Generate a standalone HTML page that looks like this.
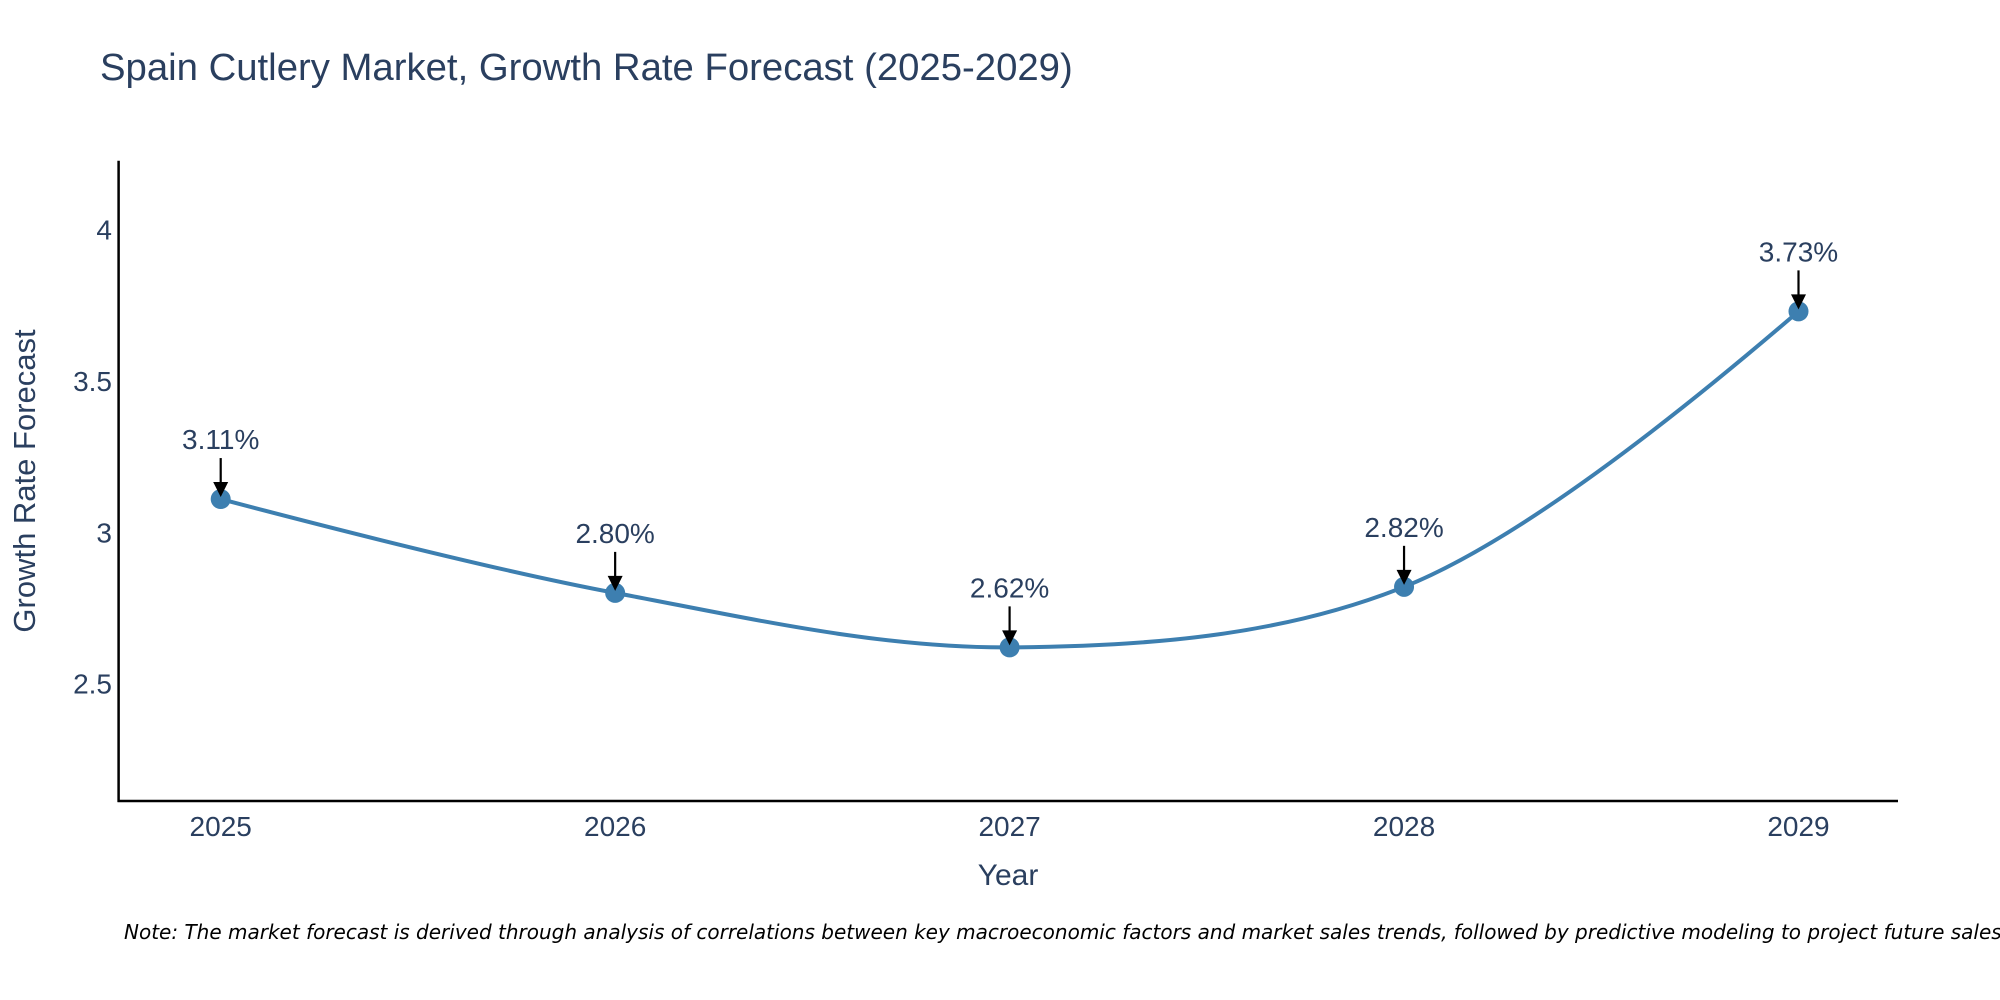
<!DOCTYPE html>
<html><head><meta charset="utf-8"><style>
html,body{margin:0;padding:0;background:#fff;}
svg{display:block;font-family:"Liberation Sans",Arial,sans-serif;}
</style></head><body>
<svg id="chart" width="2000" height="1000" viewBox="0 0 2000 1000">
<text x="100" y="80" font-size="38.3" fill="#2a3f5f">Spain Cutlery Market, Growth Rate Forecast (2025-2029)</text>
<g id="yticks"></g>
<g id="xticks"></g>
<line x1="118.6" y1="160.7" x2="118.6" y2="802" stroke="#000" stroke-width="2.5"/>
<line x1="117.5" y1="801" x2="1898" y2="801" stroke="#000" stroke-width="2.5"/>
<g id="series"></g>
<g id="annots"></g>
<text x="1008" y="885" font-size="30" fill="#2a3f5f" text-anchor="middle">Year</text>
<text transform="translate(35,481) rotate(-90)" font-size="31" fill="#2a3f5f" text-anchor="middle">Growth Rate Forecast</text>
<text x="124" y="939" font-size="20" font-style="italic" fill="#000" font-family="'DejaVu Sans',sans-serif">Note: The market forecast is derived through analysis of correlations between key macroeconomic factors and market sales trends, followed by predictive modeling to project future sales.</text>
</svg>
<script>
const years = [2025, 2026, 2027, 2028, 2029];
const rates = [3.11, 2.80, 2.62, 2.82, 3.73];
const labels = ["3.11%", "2.80%", "2.62%", "2.82%", "3.73%"];
const yTicks = [2.5, 3, 3.5, 4];
const NS = "http://www.w3.org/2000/svg";
function xs(v){ return 220.7 + (v - 2025) * 394.45; }
function ys(v){ return 683.7 - (v - 2.5) * 302.7; }
function mk(tag, attrs, parent){ const e = document.createElementNS(NS, tag); for (const k in attrs) e.setAttribute(k, attrs[k]); parent.appendChild(e); return e; }
const yt = document.getElementById('yticks');
yTicks.forEach(t => {
  const e = mk('text', {x: 112, y: ys(t) + 10, 'font-size': 28, fill: '#2a3f5f', 'text-anchor': 'end'}, yt);
  
  
  e.textContent = String(t);
});
const xt = document.getElementById('xticks');
years.forEach(y => {
  const e = mk('text', {x: xs(y), y: 836, 'font-size': 28, fill: '#2a3f5f', 'text-anchor': 'middle'}, xt);
  
  
  e.textContent = String(y);
});
const pts = years.map((y, i) => [xs(y), ys(rates[i])]);
function tangent(p, c, n){
  const d1x = p[0]-c[0], d1y = p[1]-c[1], d2x = n[0]-c[0], d2y = n[1]-c[1];
  const d1a = Math.pow(d1x*d1x + d1y*d1y, 0.25), d2a = Math.pow(d2x*d2x + d2y*d2y, 0.25);
  const numx = (d2a*d2a*d1x - d1a*d1a*d2x), numy = (d2a*d2a*d1y - d1a*d1a*d2y);
  const den1 = 3*d2a*(d1a+d2a), den2 = 3*d1a*(d1a+d2a);
  return [[c[0] + numx/den1, c[1] + numy/den1], [c[0] - numx/den2, c[1] - numy/den2]];
}
const tg = [];
for (let i = 1; i < pts.length - 1; i++) tg.push(tangent(pts[i-1], pts[i], pts[i+1]));
let d = 'M' + pts[0] + 'Q' + tg[0][0] + ' ' + pts[1];
for (let i = 2; i < pts.length - 1; i++) d += 'C' + tg[i-2][1] + ' ' + tg[i-1][0] + ' ' + pts[i];
d += 'Q' + tg[pts.length-3][1] + ' ' + pts[pts.length-1];
const ser = document.getElementById('series');
const line = mk('path', {d: d, fill: 'none', stroke: '#3d7fb0', 'stroke-width': 4}, ser);


pts.forEach(p => {
  const c = mk('circle', {cx: p[0], cy: p[1], r: 10, fill: '#3d7fb0'}, ser);
  
  
});
const an = document.getElementById('annots');
pts.forEach((p, i) => {
  const l = mk('line', {x1: p[0], y1: p[1]-41, x2: p[0], y2: p[1]-14, stroke: '#000', 'stroke-width': 2.2}, an);
  
  
  const h = mk('polygon', {points: (p[0]-7.5)+','+(p[1]-17)+' '+(p[0]+7.5)+','+(p[1]-17)+' '+p[0]+','+(p[1]-2), fill: '#000'}, an);
  
  
  const t = mk('text', {x: p[0], y: p[1]-50, 'font-size': 28, fill: '#2a3f5f', 'text-anchor': 'middle'}, an);
  
  
  t.textContent = labels[i];
});
</script>
</body></html>
